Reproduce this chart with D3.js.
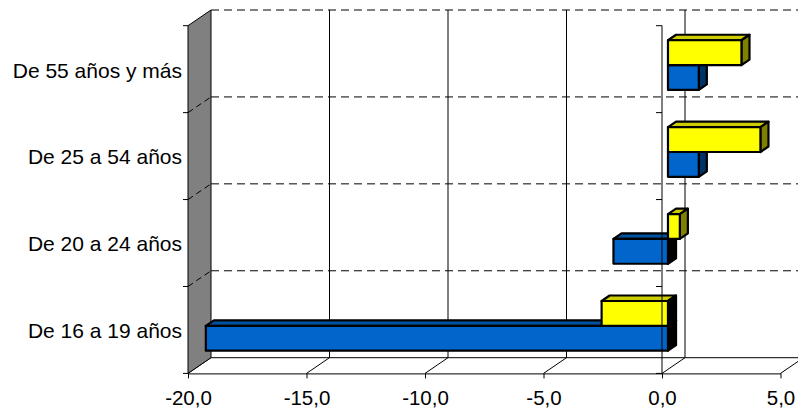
<!DOCTYPE html>
<html>
<head>
<meta charset="utf-8">
<script src="https://cdn.jsdelivr.net/npm/d3@7"></script>
<style>
  body { margin: 0; background: #fff; }
</style>
</head>
<body>
<svg id="chart" width="798" height="411"></svg>
<script>
const categories = ['De 16 a 19 años', 'De 20 a 24 años', 'De 25 a 54 años', 'De 55 años y más']
const seriesBlue = [-19.5, -2.3, 1.3, 1.3]
const seriesYellow = [-2.8, 0.5, 3.9, 3.1]
const valueTicks = [-20, -15, -10, -5, 0, 5]

const FONT = 'Arial, "Liberation Sans", sans-serif'

// depth of the 3d box (back wall offset) and the slice a bar occupies
const DX = 23,
  DY = -15.7,
  f0 = 0.26,
  f1 = 0.61

const svg = d3.select('#chart')

const x = d3.scaleLinear().domain([-20, 5]).range([188, 780.5])
const y = d3
  .scaleBand()
  .domain(categories.slice().reverse())
  .range([25.7, 373.4])
const sub = d3
  .scaleBand()
  .domain(['yellow', 'blue'])
  .range([0, y.bandwidth()])
  .paddingInner(0)
  .paddingOuter(0.75)

const locale = d3.formatLocale({ decimal: ',', thousands: '.', grouping: [3], currency: ['', '€'], minus: '-' })
const fmt = locale.format('.1f')

// project a point (value, front-plane y, depth fraction) to the screen
const P = (v, yf, f) => [x(v) + f * DX, yf + f * DY]

const yTop = y.range()[0],
  yBot = y.range()[1]
const bounds = categories.map((c) => y(c)).concat([yBot])

// back wall: vertical gridlines
svg
  .append('g')
  .selectAll('line')
  .data(valueTicks.slice(1))
  .join('line')
  .attr('x1', (d) => x(d) + DX)
  .attr('x2', (d) => x(d) + DX)
  .attr('y1', yTop + DY)
  .attr('y2', yBot + DY)
  .attr('stroke', '#000')

// back wall: dashed category lines
svg
  .append('g')
  .selectAll('line')
  .data(bounds.filter((b) => b < yBot))
  .join('line')
  .attr('x1', x(-20) + DX)
  .attr('x2', x(5) + DX)
  .attr('y1', (d) => d + DY)
  .attr('y2', (d) => d + DY)
  .attr('stroke', '#000')
  .attr('stroke-dasharray', '8,5')

// floor
const floor = svg.append('g').attr('fill', 'none').attr('stroke', '#000')
floor
  .append('line')
  .attr('x1', x(-20) + DX)
  .attr('x2', x(5) + DX)
  .attr('y1', yBot + DY)
  .attr('y2', yBot + DY)
floor
  .selectAll('line.diag')
  .data(valueTicks)
  .join('line')
  .attr('class', 'diag')
  .attr('x1', (d) => P(d, yBot, 0)[0])
  .attr('y1', (d) => P(d, yBot, 0)[1])
  .attr('x2', (d) => P(d, yBot, 1)[0])
  .attr('y2', (d) => P(d, yBot, 1)[1])

// left side wall
svg
  .append('polygon')
  .attr('points', [P(-20, yTop, 0), P(-20, yTop, 1), P(-20, yBot, 1), P(-20, yBot, 0)].join(' '))
  .attr('fill', '#808080')
  .attr('stroke', '#000')

svg
  .append('g')
  .selectAll('line')
  .data(bounds.filter((b) => b > yTop && b < yBot))
  .join('line')
  .attr('x1', (d) => P(-20, d, 0)[0])
  .attr('y1', (d) => P(-20, d, 0)[1])
  .attr('x2', (d) => P(-20, d, 1)[0])
  .attr('y2', (d) => P(-20, d, 1)[1])
  .attr('stroke', '#000')
  .attr('stroke-dasharray', '6,4')

// category ticks on the left
svg
  .append('g')
  .selectAll('line')
  .data(bounds)
  .join('line')
  .attr('x1', x(-20) - 5)
  .attr('x2', x(-20))
  .attr('y1', (d) => d)
  .attr('y2', (d) => d)
  .attr('stroke', '#000')

// bars
const styles = {
  blue: { front: '#0066CC', top: '#0052A3', side: '#003366' },
  yellow: { front: '#FFFF00', top: '#CCCC00', side: '#808000' }
}
const bars = []
categories
  .slice()
  .reverse()
  .forEach((c) => {
    const i = categories.indexOf(c)
    bars.push({ cat: c, key: 'blue', value: seriesBlue[i] })
    bars.push({ cat: c, key: 'yellow', value: seriesYellow[i] })
  })

const barG = svg
  .append('g')
  .attr('stroke', '#000')
  .attr('stroke-width', 2.2)
  .attr('stroke-linejoin', 'round')

bars.forEach((b) => {
  const xl = Math.min(0, b.value),
    xr = Math.max(0, b.value)
  const yt = y(b.cat) + sub(b.key),
    yb = yt + sub.bandwidth()
  const s = styles[b.key]
  const g = barG.append('g')
  g.append('polygon')
    .attr('points', [P(xl, yt, f0), P(xr, yt, f0), P(xr, yt, f1), P(xl, yt, f1)].join(' '))
    .attr('fill', s.top)
  g.append('polygon')
    .attr('points', [P(xr, yt, f0), P(xr, yt, f1), P(xr, yb, f1), P(xr, yb, f0)].join(' '))
    .attr('fill', b.value >= 0 ? s.side : '#000')
  g.append('polygon')
    .attr('points', [P(xl, yt, f0), P(xr, yt, f0), P(xr, yb, f0), P(xl, yb, f0)].join(' '))
    .attr('fill', s.front)
})

// value axis line at zero with its category ticks
svg
  .append('line')
  .attr('x1', x(0))
  .attr('x2', x(0))
  .attr('y1', yTop)
  .attr('y2', yBot)
  .attr('stroke', '#000')
svg
  .append('g')
  .selectAll('line')
  .data(bounds)
  .join('line')
  .attr('x1', x(0) - 6)
  .attr('x2', x(0))
  .attr('y1', (d) => d)
  .attr('y2', (d) => d)
  .attr('stroke', '#000')

// bottom axis
const xAxis = svg
  .append('g')
  .attr('transform', `translate(0,${yBot})`)
  .call(d3.axisBottom(x).tickValues(valueTicks).tickFormat(fmt).tickSize(5).tickSizeOuter(0).tickPadding(12))
xAxis.attr('font-family', FONT).attr('font-size', 20.5)
xAxis.selectAll('path, line').attr('stroke', '#000')
xAxis.selectAll('text').attr('fill', '#000')

// category labels
const yAxis = svg
  .append('g')
  .attr('transform', `translate(${x(-20)},0)`)
  .call(d3.axisLeft(y).tickSize(0).tickPadding(6))
yAxis.select('.domain').remove()
yAxis.attr('font-family', FONT).attr('font-size', 21)
yAxis.selectAll('text').attr('fill', '#000').attr('dy', '0.4em')
</script>
</body>
</html>
